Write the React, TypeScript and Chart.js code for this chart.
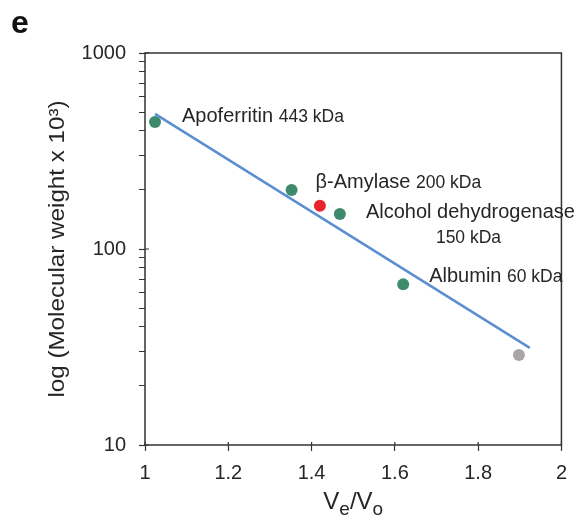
import React, { useEffect, useRef } from "react";
import { Chart, registerables } from "chart.js";
Chart.register(...registerables);

// Calibration standards
const markerX = [1.024, 1.352, 1.468, 1.62];
const markerY = [444, 200, 151, 66];
const markerNames = ["Apoferritin", "β-Amylase", "Alcohol dehydrogenase", "Albumin"];
const markerMass = ["443 kDa", "200 kDa", "150 kDa", "60 kDa"];
// Sample (red) and other point (grey)
const sampleX = [1.42];
const sampleY = [166];
const greyX = [1.898];
const greyY = [28.8];
// Fitted line
const fitX = [1.024, 1.924];
const fitY = [489, 31.3];
// Ticks
const xTicks = [1, 1.2, 1.4, 1.6, 1.8, 2];
const yMajorTicks = [10, 100, 1000];
const yMinorTicks = [20, 30, 40, 50, 60, 70, 80, 90, 200, 300, 400, 500, 600, 700, 800, 900];

const FONT = "'Liberation Sans', Arial, sans-serif";
const INK = "#262626";

const pts = (xs: number[], ys: number[]) => xs.map((x, i) => ({ x, y: ys[i] }));

const overlay = {
  id: "overlay",
  afterDraw(chart: any) {
    const { ctx, chartArea: a, scales } = chart;
    const xs = scales.x;
    const ys = scales.y;
    ctx.save();
    // frame
    ctx.strokeStyle = "#333";
    ctx.lineWidth = 1.5;
    ctx.strokeRect(a.left, a.top, a.right - a.left, a.bottom - a.top);
    // inward parts of major ticks
    ctx.lineWidth = 1.2;
    ctx.beginPath();
    yMajorTicks.forEach((v) => {
      const p = ys.getPixelForValue(v);
      ctx.moveTo(a.left, p);
      ctx.lineTo(a.left + 4, p);
    });
    xTicks.forEach((v) => {
      const p = xs.getPixelForValue(v);
      ctx.moveTo(p, a.bottom);
      ctx.lineTo(p, a.bottom - 3);
    });
    ctx.stroke();

    // point labels
    ctx.fillStyle = INK;
    ctx.textBaseline = "middle";
    ctx.textAlign = "left";
    const big = `20px ${FONT}`;
    const small = `17.5px ${FONT}`;
    const offsets = [
      [27, -6],
      [24, -8],
      [26, -1],
      [26, -8],
    ];
    markerNames.forEach((name, i) => {
      const px = xs.getPixelForValue(markerX[i]) + offsets[i][0];
      const py = ys.getPixelForValue(markerY[i]) + offsets[i][1];
      ctx.font = big;
      ctx.fillText(name, px, py);
      if (i === 2) {
        ctx.font = small;
        ctx.fillText(markerMass[i], px + 70, py + 25);
      } else {
        const w = ctx.measureText(name + " ").width;
        ctx.font = small;
        ctx.fillText(markerMass[i], px + w, py + 1);
      }
    });

    // panel letter
    ctx.font = `bold 32px ${FONT}`;
    ctx.textBaseline = "alphabetic";
    ctx.fillStyle = "#111";
    ctx.fillText("e", 11, 33);

    // y title
    ctx.fillStyle = INK;
    ctx.save();
    ctx.translate(58, (a.top + a.bottom) / 2);
    ctx.rotate(-Math.PI / 2);
    ctx.scale(1.1, 1);
    ctx.textAlign = "center";
    ctx.textBaseline = "middle";
    ctx.font = `22px ${FONT}`;
    ctx.fillText("log (Molecular weight x 10³)", 0, 0);
    ctx.restore();

    // x title V_e/V_o
    const parts: [string, boolean][] = [
      ["V", false],
      ["e", true],
      ["/", false],
      ["V", false],
      ["o", true],
    ];
    const fBig = `24px ${FONT}`;
    const fSub = `19px ${FONT}`;
    let total = 0;
    parts.forEach(([t, sub]) => {
      ctx.font = sub ? fSub : fBig;
      total += ctx.measureText(t).width;
    });
    let cx = (a.left + a.right) / 2 - total / 2;
    const base = 509;
    ctx.textAlign = "left";
    ctx.textBaseline = "alphabetic";
    parts.forEach(([t, sub]) => {
      ctx.font = sub ? fSub : fBig;
      ctx.fillText(t, cx, sub ? base + 6 : base);
      cx += ctx.measureText(t).width;
    });
    ctx.restore();
  },
};

export default function App() {
  const ref = useRef<HTMLCanvasElement>(null);
  useEffect(() => {
    document.body.style.margin = "0";
    const chart = new Chart(ref.current as HTMLCanvasElement, {
      type: "scatter",
      data: {
        datasets: [
          {
            data: pts(fitX, fitY),
            showLine: true,
            borderColor: "#5b8fd0",
            borderWidth: 2.5,
            pointRadius: 0,
          } as any,
          {
            data: pts(markerX, markerY),
            backgroundColor: "#3d8a6c",
            borderWidth: 0,
            pointRadius: 6,
          },
          {
            data: pts(sampleX, sampleY),
            backgroundColor: "#e8252a",
            borderWidth: 0,
            pointRadius: 6,
          },
          {
            data: pts(greyX, greyY),
            backgroundColor: "#aaa5a5",
            borderWidth: 0,
            pointRadius: 6,
          },
        ],
      },
      options: {
        responsive: false,
        animation: false,
        events: [],
        layout: { padding: { top: 53, right: 11, bottom: 0, left: 0 } },
        plugins: { legend: { display: false }, tooltip: { enabled: false } },
        scales: {
          x: {
            type: "linear",
            min: 1,
            max: 2,
            afterBuildTicks: (s: any) => {
              s.ticks = xTicks.map((v) => ({ value: v }));
            },
            afterFit: (s: any) => {
              s.height = 77;
            },
            ticks: {
              autoSkip: false,
              maxRotation: 0,
              padding: 10,
              color: INK,
              font: { family: FONT, size: 20 },
              callback: (v: any) => String(v),
            },
            grid: {
              drawOnChartArea: false,
              drawTicks: true,
              tickLength: 6,
              tickColor: "#333",
              tickWidth: 1.2,
            },
            border: { display: false },
          },
          y: {
            type: "logarithmic",
            min: 10,
            max: 1000,
            afterBuildTicks: (s: any) => {
              s.ticks = [...yMajorTicks, ...yMinorTicks]
                .sort((p, q) => p - q)
                .map((v) => ({ value: v, major: yMajorTicks.includes(v) }));
            },
            afterFit: (s: any) => {
              s.width = 145;
            },
            ticks: {
              autoSkip: false,
              padding: 13,
              color: INK,
              font: { family: FONT, size: 20 },
              callback: (v: any) => (yMajorTicks.includes(v) ? String(v) : ""),
            },
            grid: {
              drawOnChartArea: false,
              drawTicks: true,
              tickLength: 6,
              tickColor: "#333",
              tickWidth: (c: any) => (yMajorTicks.includes(c.tick?.value) ? 1.2 : 1),
            },
            border: { display: false },
          },
        },
      },
      plugins: [overlay],
    });
    return () => chart.destroy();
  }, []);
  return (
    <div style={{ width: 577, height: 522 }}>
      <canvas ref={ref} width={577} height={522} />
    </div>
  );
}
